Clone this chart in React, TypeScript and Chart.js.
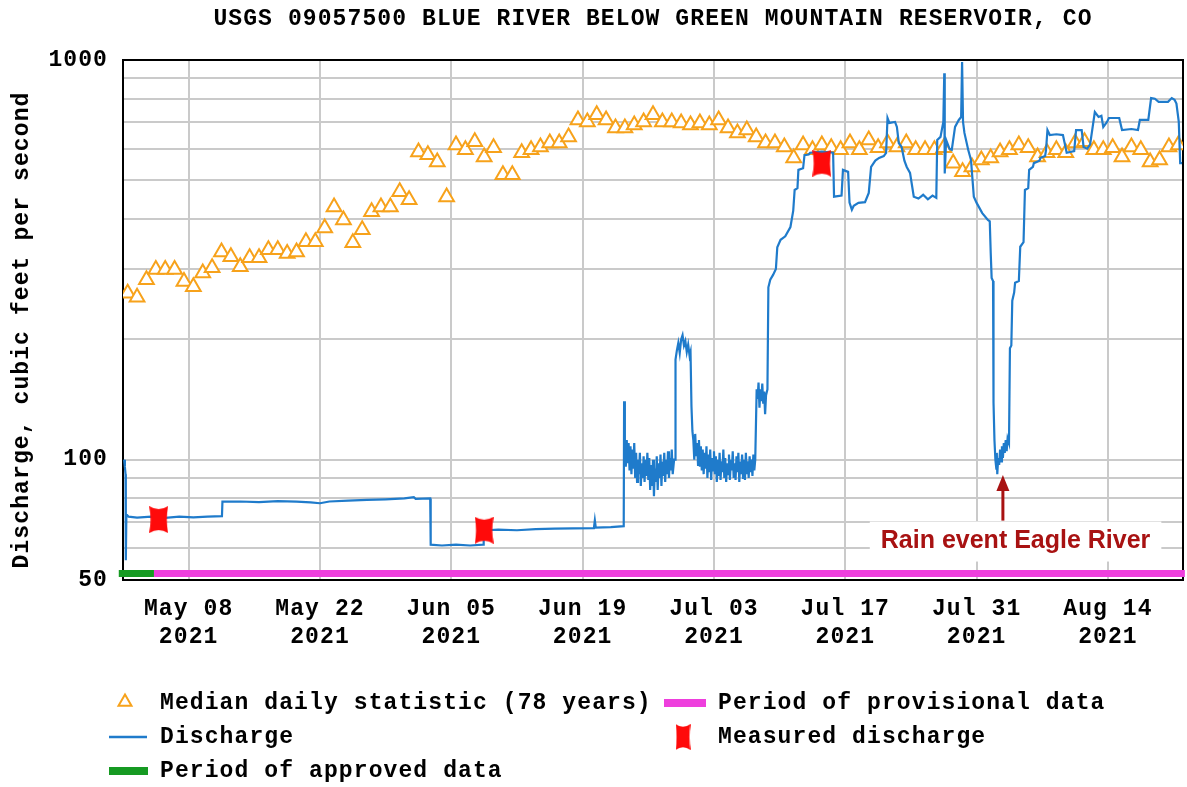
import React, { useEffect, useRef } from 'react';
import { Chart, registerables } from 'chart.js';

Chart.register(...registerables);

// ---------- text ----------
const TITLE = 'USGS 09057500 BLUE RIVER BELOW GREEN MOUNTAIN RESERVOIR, CO';
const Y_TITLE = 'Discharge, cubic feet per second';
const ANNOTATION_TEXT = 'Rain event Eagle River';
const LEGEND_MEDIAN = 'Median daily statistic (78 years)';
const LEGEND_PROVISIONAL = 'Period of provisional data';
const LEGEND_DISCHARGE = 'Discharge';
const LEGEND_MEASURED = 'Measured discharge';
const LEGEND_APPROVED = 'Period of approved data';

// ---------- axes (days since May 01 2021) ----------
const xMinDay = 0;
const xMaxDay = 113;
const xTickDays = [7, 21, 35, 49, 63, 77, 91, 105];
const xTickLabels = [
  ['May 08', '2021'],
  ['May 22', '2021'],
  ['Jun 05', '2021'],
  ['Jun 19', '2021'],
  ['Jul 03', '2021'],
  ['Jul 17', '2021'],
  ['Jul 31', '2021'],
  ['Aug 14', '2021'],
];
const yMin = 50;
const yMax = 1000;
const yTicks = [50, 60, 70, 80, 90, 100, 200, 300, 400, 500, 600, 700, 800, 900, 1000];
const yLabeledTicks = [50, 100, 1000];

// ---------- median daily statistic (one per day, May 01 ...) ----------
const medianValues = [
  261, 255, 282, 299, 299, 299, 279, 271, 293, 302,
  331, 322, 304, 320, 320, 335, 335, 328, 331, 351,
  351, 380, 429, 398, 349, 376, 417, 429, 429, 468,
  447, 589, 579, 556, 454, 613, 596, 624, 572, 603,
  516, 516, 586, 596, 606, 620, 620, 642, 708, 700,
  729, 708, 676, 676, 688, 700, 729, 700, 700, 696,
  688, 696, 688, 708, 676, 657, 668, 642, 620, 620,
  606, 569, 613, 596, 613, 603, 596, 620, 596, 631,
  603, 620, 606, 620, 596, 596, 596, 603, 552, 525,
  540, 562, 569, 589, 596, 613, 603, 572, 586, 596,
  586, 620, 624, 596, 596, 603, 572, 606, 596, 556,
  562, 606, 613,
];

// ---------- discharge ----------
const dischargeDays = [
  0.12, 0.2, 0.27, 0.3, 0.36, 0.6, 1.5, 3.0, 4.5, 6.0, 7.5, 9.0, 10.55,
  10.6, 12.5, 14.5, 16.5, 18.5, 20.0, 21.0, 22.0, 24.0, 26.0, 28.0, 30.0, 31.0, 31.2, 32.75,
  32.8, 34.0, 35.5, 37.0, 38.4,
  38.45, 40.0, 42.0, 44.0, 46.0, 48.0, 50.2, 50.3, 50.4, 52.0, 53.38,
  53.42, 53.5, 53.6, 53.7, 53.8, 53.9, 54.0, 54.1, 54.2, 54.3, 54.4, 54.5, 54.6, 54.7, 54.8, 54.9,
  55.0, 55.1, 55.2, 55.3, 55.4, 55.5, 55.6, 55.7, 55.8, 55.9, 56.0, 56.1, 56.2, 56.3, 56.4, 56.5,
  56.6, 56.7, 56.8, 56.9, 57.0, 57.1, 57.2, 57.3, 57.4, 57.5, 57.6, 57.7, 57.8, 57.9, 58.0, 58.1,
  58.2, 58.3, 58.4, 58.5, 58.6, 58.75,
  58.85, 58.9, 59.05, 59.2, 59.35, 59.5, 59.65, 59.8, 59.95, 60.1, 60.25, 60.4, 60.5, 60.6, 60.7,
  60.8, 60.9, 61.0, 61.1, 61.2, 61.3, 61.4, 61.5, 61.6, 61.7, 61.8, 61.9, 62.0, 62.1, 62.2, 62.3,
  62.4, 62.5, 62.6, 62.7, 62.8, 62.9, 63.0, 63.1, 63.2, 63.3, 63.4, 63.5, 63.6, 63.7, 63.8, 63.9,
  64.0, 64.1, 64.2, 64.3, 64.4, 64.5, 64.6, 64.7, 64.8, 64.9, 65.0, 65.1, 65.2, 65.3, 65.4, 65.5,
  65.6, 65.7, 65.8, 65.9, 66.0, 66.1, 66.2, 66.3, 66.4, 66.5, 66.6, 66.7, 66.8, 66.9, 67.0, 67.1,
  67.2, 67.3, 67.4,
  67.55, 67.65, 67.75, 67.85, 67.95, 68.05, 68.15, 68.25, 68.35, 68.45, 68.55, 68.7,
  68.8, 69.0, 69.3, 69.6, 69.75, 70.1, 70.6, 71.15, 71.45, 71.6, 71.9, 72.0, 72.5, 72.65, 73.1,
  73.25, 74.5, 75.7, 75.8, 76.6, 76.75, 77.3, 77.45, 77.7, 77.9, 78.4, 79.1, 79.5, 79.75, 80.2,
  80.6, 81.1, 81.35, 81.5, 81.7, 82.3, 82.5, 82.7, 83.0, 83.3, 83.55, 83.9, 84.3, 84.8, 85.3,
  85.8, 86.3, 86.7, 86.8, 87.15, 87.45, 87.55, 87.6, 87.75, 88.1, 88.35, 88.7, 89.1, 89.35, 89.45,
  89.55, 89.7, 90.1, 90.4, 90.7, 91.0, 91.6, 92.2, 92.4, 92.5, 92.6, 92.75, 92.8,
  92.9, 93.0, 93.1, 93.15, 93.2, 93.3, 93.4, 93.5, 93.6, 93.7, 93.8, 93.9, 94.0, 94.1, 94.2, 94.3, 94.45,
  94.55, 94.7, 94.8, 95.0, 95.1, 95.5, 95.65, 96.0, 96.15, 96.5, 96.6, 97.0, 97.1, 97.7, 97.8,
  98.3, 98.4, 98.55, 98.8, 99.5, 100.2, 100.6, 101.4, 101.6, 102.2, 102.4, 102.8, 103.1, 103.6,
  104.0, 104.3, 104.5, 104.9, 105.1, 106.2, 106.5, 107.5, 108.2, 108.4, 109.3, 109.6, 110.0,
  110.4, 111.4, 111.8, 112.1, 112.3, 112.55, 112.7, 112.9,
];
const dischargeValues = [
  100, 96, 92, 56, 73, 72, 71.6, 72, 71.5, 72, 71.7, 72, 72.2,
  78.5, 78.6, 78.3, 78.8, 78.5, 78.2, 77.8, 78.6, 79.0, 79.3, 79.6, 80.0, 80.6, 79.8, 80.0,
  61.3, 61.0, 61.3, 61.0, 61.3,
  66.5, 66.8, 66.6, 67.0, 67.2, 67.3, 67.4, 70.5, 67.6, 67.8, 68.2,
  140, 108, 96, 112, 98, 110, 94, 108, 92, 106, 95, 110, 90, 104, 88, 100,
  92, 104, 86, 98, 90, 102, 88, 100, 91, 104, 89, 101, 84, 97, 86, 100,
  81, 95, 88, 102, 84, 98, 90, 103, 86, 99, 91, 104, 88, 100, 92, 105,
  90, 101, 94, 106, 92, 100,
  100, 178, 188, 196, 185, 200, 205, 193, 198, 186, 194, 182, 186, 136, 118,
  112, 100, 116, 102, 110, 97, 112, 96, 108, 94, 106, 92, 104, 95, 108, 90,
  103, 93, 106, 89, 101, 94, 105, 92, 102, 88, 100, 91, 104, 89, 99, 93,
  106, 90, 101, 88, 98, 92, 103, 89, 100, 94, 105, 90, 98, 89, 102, 93,
  104, 88, 99, 92, 103, 90, 100, 89, 104, 92, 99, 90, 102, 93, 100, 91,
  103, 94, 100,
  150, 142, 156, 135, 150, 140, 155, 138, 148, 130, 145, 150,
  270, 282, 290, 300, 340, 355, 362, 382, 420, 473, 478, 531, 536, 578, 580,
  586, 590, 586, 455, 458, 531, 525, 440, 422, 432, 439, 441, 465, 540, 560,
  569, 575, 586, 716, 696, 700, 680, 620, 606, 560, 540, 522, 455, 450, 460,
  448, 458, 452, 631, 642, 700, 927, 520, 631, 600, 596, 680, 708, 720, 989,
  700, 657, 596, 562, 455, 439, 414, 398, 395, 330, 285, 280, 139,
  112, 100, 95, 104, 92, 101, 97, 106, 99, 108, 101, 110, 104, 112, 105, 113, 110,
  190, 193, 250, 262, 277, 280, 341, 350, 473, 478, 531, 540, 552, 560, 569,
  575, 596, 668, 649, 652, 649, 586, 592, 668, 668, 606, 600, 615, 741,
  720, 725, 680, 700, 716, 716, 668, 672, 668, 708, 708, 803, 800,
  786, 786, 803, 795, 778, 700, 552, 552,
];

// ---------- measured discharge ----------
const measuredDays = [3.8, 38.5, 74.5];
const measuredValues = [70.8, 66.6, 552];

// ---------- data-period bars ----------
const approvedPeriodDays = [-0.45, 3.3];
const provisionalPeriodDays = [3.3, 113.2];
const periodBarLevel = 51.9;

// ---------- annotation ----------
const annotationArrowDay = 93.8;
const annotationTipValue = 91.5;
const annotationBaseValue = 70.4;
const annotationTextDay = 95.15;
const annotationTextValue = 62.4;

// ---------- styles ----------
const MONO = '"Liberation Mono", "DejaVu Sans Mono", monospace';
const LETTER_SPACING = '1.1px';
const FONT_SIZE = 23;
const FONT = `bold ${FONT_SIZE}px ${MONO}`;
const ORANGE = '#F7A21B';
const BLUE = '#1F7BCB';
const RED = '#FF0A0A';
const GREEN = '#169A22';
const MAGENTA = '#EE3FDD';
const DARK_RED = '#A81212';
const GRID = '#cacaca';

function makeMarker(w: number, h: number): HTMLCanvasElement {
  const c = document.createElement('canvas');
  c.width = w;
  c.height = h;
  const g = c.getContext('2d')!;
  g.fillStyle = RED;
  g.beginPath();
  g.moveTo(0, 0);
  g.quadraticCurveTo(w / 2, h * 0.22, w, 0);
  g.quadraticCurveTo(w * 0.86, h / 2, w, h);
  g.quadraticCurveTo(w / 2, h * 0.78, 0, h);
  g.quadraticCurveTo(w * 0.14, h / 2, 0, 0);
  g.closePath();
  g.fill();
  return c;
}

function drawTriangle(ctx: CanvasRenderingContext2D, x: number, y: number, r: number) {
  ctx.beginPath();
  for (let k = 0; k < 3; k++) {
    const a = (k * 2 * Math.PI) / 3;
    const px = x + Math.sin(a) * r;
    const py = y - Math.cos(a) * r;
    if (k === 0) ctx.moveTo(px, py);
    else ctx.lineTo(px, py);
  }
  ctx.closePath();
  ctx.fillStyle = '#fff';
  ctx.fill();
  ctx.lineWidth = 2;
  ctx.strokeStyle = ORANGE;
  ctx.stroke();
}

export default function App() {
  const ref = useRef<HTMLCanvasElement | null>(null);

  useEffect(() => {
    document.body.style.margin = '0';
    const canvas = ref.current!;
    const marker = makeMarker(19, 27);
    const legendMarker = makeMarker(15, 26);

    const decor = {
      id: 'usgsDecor',
      beforeUpdate(chart: any) {
        chart.ctx.letterSpacing = LETTER_SPACING;
      },
      beforeDraw(chart: any) {
        const ctx = chart.ctx;
        ctx.letterSpacing = LETTER_SPACING;
        ctx.save();
        ctx.fillStyle = '#fff';
        ctx.fillRect(0, 0, chart.width, chart.height);
        ctx.restore();
      },
      beforeDatasetsDraw(chart: any) {
        const ctx = chart.ctx;
        const a = chart.chartArea;
        ctx.save();
        ctx.strokeStyle = '#000';
        ctx.lineWidth = 2;
        ctx.strokeRect(a.left, a.top, a.right - a.left, a.bottom - a.top);
        ctx.restore();
      },
      afterDatasetsDraw(chart: any) {
        const ctx = chart.ctx;
        const xs = chart.scales.x;
        const ys = chart.scales.y;
        ctx.save();
        ctx.letterSpacing = '0px';
        ctx.font = 'bold 25px "Liberation Sans", Arial, sans-serif';
        const tw = ctx.measureText(ANNOTATION_TEXT).width;
        const tx = xs.getPixelForValue(annotationTextDay);
        const ty = ys.getPixelForValue(annotationTextValue);
        ctx.fillStyle = '#fff';
        ctx.fillRect(tx - tw / 2 - 11, ty - 20, tw + 22, 40);
        ctx.fillStyle = DARK_RED;
        ctx.textAlign = 'center';
        ctx.textBaseline = 'middle';
        ctx.fillText(ANNOTATION_TEXT, tx, ty);
        const ax = xs.getPixelForValue(annotationArrowDay);
        const tipY = ys.getPixelForValue(annotationTipValue);
        const baseY = ys.getPixelForValue(annotationBaseValue);
        ctx.strokeStyle = DARK_RED;
        ctx.lineWidth = 3;
        ctx.beginPath();
        ctx.moveTo(ax, baseY);
        ctx.lineTo(ax, tipY + 12);
        ctx.stroke();
        ctx.beginPath();
        ctx.moveTo(ax, tipY);
        ctx.lineTo(ax + 6.5, tipY + 16);
        ctx.lineTo(ax - 6.5, tipY + 16);
        ctx.closePath();
        ctx.fillStyle = DARK_RED;
        ctx.fill();
        ctx.restore();
      },
      afterDraw(chart: any) {
        const ctx = chart.ctx;
        const a = chart.chartArea;
        ctx.save();
        ctx.letterSpacing = LETTER_SPACING;
        ctx.font = FONT;
        ctx.fillStyle = '#000';
        ctx.textBaseline = 'middle';
        // title
        ctx.textAlign = 'center';
        ctx.fillText(TITLE, (a.left + a.right) / 2, 19);
        // y-axis title
        ctx.save();
        ctx.translate(22, (a.top + a.bottom) / 2 + 10);
        ctx.rotate(-Math.PI / 2);
        ctx.fillText(Y_TITLE, 0, 0);
        ctx.restore();
        // legend
        ctx.textAlign = 'left';
        const col1Text = 160;
        const col2Text = 718;
        const r1 = 703;
        const r2 = 737;
        const r3 = 771;
        drawTriangle(ctx, 125, r1 - 1, 7.5);
        ctx.fillStyle = '#000';
        ctx.fillText(LEGEND_MEDIAN, col1Text, r1);
        ctx.fillStyle = MAGENTA;
        ctx.fillRect(664, r1 - 4, 42, 8);
        ctx.fillStyle = '#000';
        ctx.fillText(LEGEND_PROVISIONAL, col2Text, r1);
        ctx.strokeStyle = BLUE;
        ctx.lineWidth = 2.5;
        ctx.beginPath();
        ctx.moveTo(109, r2);
        ctx.lineTo(147, r2);
        ctx.stroke();
        ctx.fillStyle = '#000';
        ctx.fillText(LEGEND_DISCHARGE, col1Text, r2);
        ctx.drawImage(legendMarker, 683 - 7.5, r2 - 13);
        ctx.fillText(LEGEND_MEASURED, col2Text, r2);
        ctx.fillStyle = GREEN;
        ctx.fillRect(109, r3 - 4, 39, 8);
        ctx.fillStyle = '#000';
        ctx.fillText(LEGEND_APPROVED, col1Text, r3);
        ctx.restore();
      },
    };

    const tickFont = { family: MONO, size: FONT_SIZE, weight: 'bold' as const, lineHeight: '28px' };

    const chart = new Chart(canvas, {
      type: 'line',
      data: {
        datasets: [
          {
            label: LEGEND_MEASURED,
            data: measuredDays.map((d, i) => ({ x: d, y: measuredValues[i] })),
            showLine: false,
            pointStyle: marker as any,
            pointRadius: 10,
            order: 0,
          },
          {
            label: LEGEND_DISCHARGE,
            data: dischargeDays.map((d, i) => ({ x: d, y: dischargeValues[i] })),
            borderColor: BLUE,
            borderWidth: 2.2,
            pointRadius: 0,
            tension: 0,
            fill: false,
            order: 1,
          },
          {
            label: LEGEND_MEDIAN,
            data: medianValues.map((v, i) => ({ x: xMinDay + i + 0.5, y: v })),
            showLine: false,
            pointStyle: 'triangle',
            pointRadius: 8.5,
            pointBorderWidth: 2,
            pointBorderColor: ORANGE,
            pointBackgroundColor: '#fff',
            order: 2,
          },
          {
            label: LEGEND_APPROVED,
            data: approvedPeriodDays.map((d) => ({ x: d, y: periodBarLevel })),
            borderColor: GREEN,
            borderWidth: 7,
            borderCapStyle: 'butt',
            pointRadius: 0,
            clip: false as any,
            order: 3,
          },
          {
            label: LEGEND_PROVISIONAL,
            data: provisionalPeriodDays.map((d) => ({ x: d, y: periodBarLevel })),
            borderColor: MAGENTA,
            borderWidth: 7,
            borderCapStyle: 'butt',
            pointRadius: 0,
            clip: false as any,
            order: 4,
          },
        ],
      },
      options: {
        animation: false,
        responsive: false,
        devicePixelRatio: 1,
        events: [],
        layout: { autoPadding: false, padding: { top: 60, right: 4, bottom: 132, left: 0 } },
        plugins: {
          legend: { display: false },
          tooltip: { enabled: false },
          title: { display: false },
        },
        scales: {
          x: {
            type: 'linear',
            min: xMinDay,
            max: xMaxDay,
            afterBuildTicks: (scale: any) => {
              scale.ticks = xTickDays.map((v) => ({ value: v }));
            },
            afterFit: (scale: any) => {
              scale.height = 75;
            },
            grid: { color: GRID, lineWidth: 2, drawTicks: false },
            border: { display: false },
            ticks: {
              autoSkip: false,
              maxRotation: 0,
              padding: 15,
              color: '#000',
              font: tickFont,
              callback: (value: any) => {
                const idx = xTickDays.indexOf(Number(value));
                return idx >= 0 ? xTickLabels[idx] : '';
              },
            },
          },
          y: {
            type: 'logarithmic',
            min: yMin,
            max: yMax,
            afterBuildTicks: (scale: any) => {
              scale.ticks = yTicks.map((v) => ({ value: v }));
            },
            afterFit: (scale: any) => {
              scale.width = 123;
            },
            grid: { color: GRID, lineWidth: 2, drawTicks: false },
            border: { display: false },
            ticks: {
              autoSkip: false,
              padding: 15,
              color: '#000',
              font: { family: MONO, size: FONT_SIZE, weight: 'bold' },
              callback: (value: any) => (yLabeledTicks.includes(Number(value)) ? String(value) : ''),
            },
          },
        },
      },
      plugins: [decor],
    } as any);

    return () => chart.destroy();
  }, []);

  return (
    <div style={{ width: 1187, height: 787, overflow: 'hidden' }}>
      <canvas ref={ref} width={1187} height={787} style={{ display: 'block', width: 1187, height: 787 }} />
    </div>
  );
}
